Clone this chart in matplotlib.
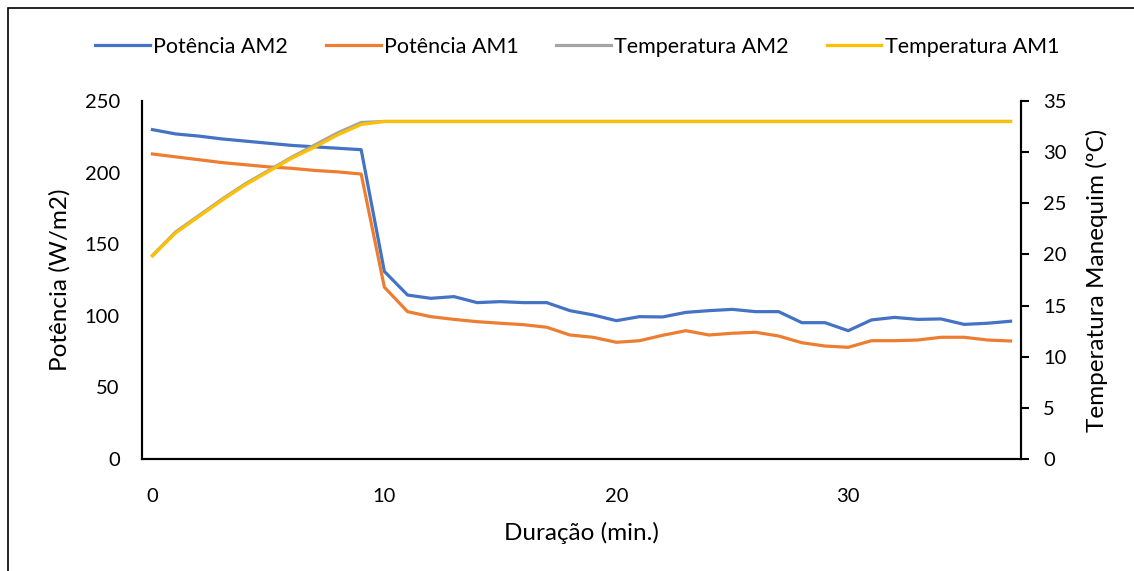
import matplotlib.pyplot as plt
from matplotlib.patches import Rectangle

plt.rcParams['font.family'] = ['Lato', 'DejaVu Sans']

minutes = list(range(38))
pot_am2 = [230, 227, 225.5, 223.5, 222, 220.5, 219, 218, 217, 216,
           131, 114.5, 112.2, 113.4, 109.2, 109.9, 109.2, 109.2, 103.6, 100.6,
           96.6, 99.4, 99.2, 102.4, 103.6, 104.5, 102.9, 102.9, 95.2, 95.2,
           89.6, 97.1, 98.9, 97.5, 97.8, 94.0, 94.8, 96.2]
pot_am1 = [213, 211, 209, 207, 205.5, 204, 203, 201.5, 200.5, 199,
           120, 102.9, 99.4, 97.5, 95.9, 94.8, 93.8, 92.0, 86.6, 85.0,
           81.5, 82.6, 86.4, 89.6, 86.6, 87.8, 88.5, 85.9, 81.2, 78.9,
           78.0, 82.6, 82.6, 83.1, 85.0, 85.0, 83.1, 82.4]
temp_rise_am2 = [19.9, 22.2, 23.8, 25.4, 26.9, 28.2, 29.5, 30.7, 31.9, 32.9]
temp_rise_am1 = [19.85, 22.1, 23.7, 25.3, 26.8, 28.1, 29.4, 30.5, 31.7, 32.7]
temp_am2 = temp_rise_am2 + [33.0] * 28
temp_am1 = temp_rise_am1 + [33.0] * 28

fig = plt.figure(figsize=(11.34, 5.71), dpi=100)
ax = fig.add_axes([142 / 1134, 112 / 571, 879 / 1134, 358 / 571])
ax2 = ax.twinx()

l1, = ax.plot(minutes, pot_am2, color='#4472C4', lw=2.3, label='Potência AM2')
l2, = ax.plot(minutes, pot_am1, color='#ED7D31', lw=2.3, label='Potência AM1')
l3, = ax2.plot(minutes, temp_am2, color='#A5A5A5', lw=2.3, label='Temperatura AM2')
l4, = ax2.plot(minutes, temp_am1, color='#FFC000', lw=2.3, label='Temperatura AM1')

ax.set_xlim(-0.45, 37.45)
ax.set_ylim(0, 250)
ax2.set_ylim(0, 35)
ax.set_xticks([0, 10, 20, 30])
ax.set_yticks(range(0, 251, 50))
ax2.set_yticks(range(0, 36, 5))

for a in (ax, ax2):
    a.spines['top'].set_visible(False)
    for s in ('left', 'right', 'bottom'):
        a.spines[s].set_linewidth(1.5)
ax.tick_params(axis='y', length=0, labelsize=14.5, pad=16)
ax.tick_params(axis='x', length=0, labelsize=14.5, pad=21)
ax2.tick_params(axis='y', length=6, width=1.5, labelsize=14.5, pad=10)

ax.set_xlabel('Duração (min.)', fontsize=17.5, labelpad=12)
ax.set_ylabel('Potência (W/m2)', fontsize=17.5, labelpad=10)
ax2.set_ylabel('Temperatura Manequim (ºC)', fontsize=17.5, labelpad=14)

fig.legend(handles=[l1, l2, l3, l4], loc='center', bbox_to_anchor=(0.509, 1 - 47 / 571),
           ncol=4, frameon=False, fontsize=15.5, handlelength=2.55, handletextpad=0.15,
           columnspacing=1.75)

fig.patches.append(Rectangle((8 / 1134, -0.1), 1.2, (571 - 8) / 571 + 0.1,
                             transform=fig.transFigure, fill=False,
                             edgecolor='black', lw=1.2))

fig.savefig('out.png', dpi=100)
